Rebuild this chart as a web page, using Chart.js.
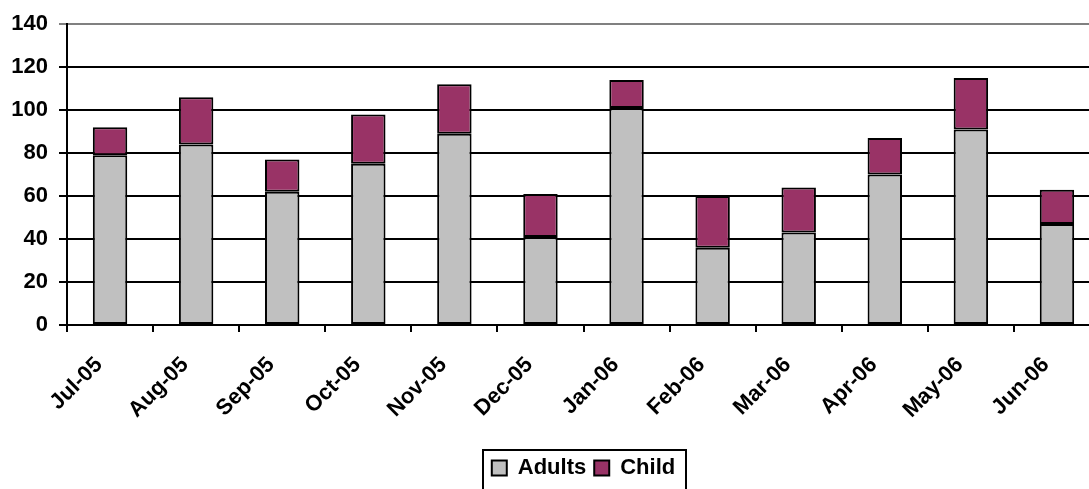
<!DOCTYPE html>
<html>
<head>
  <meta charset="UTF-8">
  <title>Adults / Child</title>
  <script src="https://cdn.jsdelivr.net/npm/chart.js"></script>
  <style>
    html, body { margin: 0; padding: 0; background: #fff; }
    #wrap { width: 1089px; height: 489px; overflow: hidden; }
    canvas { display: block; }
  </style>
</head>
<body>
  <div id="wrap"><canvas id="barChart" width="1100" height="489"></canvas></div>

  <script>
    const months = ['Jul-05', 'Aug-05', 'Sep-05', 'Oct-05', 'Nov-05', 'Dec-05',
                    'Jan-06', 'Feb-06', 'Mar-06', 'Apr-06', 'May-06', 'Jun-06'];
    const adults = [79, 84, 62, 75, 89, 41, 101, 36, 43, 70, 91, 47];
    const child = [13, 22, 15, 23, 23, 20, 13, 24, 21, 17, 24, 16];
    const yTicks = [0, 20, 40, 60, 80, 100, 120, 140];

    const font = { family: 'Liberation Sans, Arial, sans-serif', size: 22, weight: 'bold' };

    // Excel style border around the legend
    const legendBorder = {
      id: 'legendBorder',
      afterDraw(chart) {
        const lg = chart.legend;
        if (!lg || !lg.legendHitBoxes.length) return;
        const boxes = lg.legendHitBoxes;
        const left = Math.min(...boxes.map((b) => b.left)) - 9;
        const right = Math.max(...boxes.map((b) => b.left + b.width)) + 11;
        const ctx = chart.ctx;
        ctx.save();
        ctx.strokeStyle = '#000';
        ctx.lineWidth = 2;
        ctx.strokeRect(Math.round(left), Math.round(lg.top) + 1, Math.round(right - left), lg.height + 6);
        ctx.restore();
      }
    };

    const ctx = document.getElementById('barChart').getContext('2d');
    new Chart(ctx, {
      type: 'bar',
      data: {
        labels: months,
        datasets: [
          {
            label: 'Adults',
            data: adults,
            backgroundColor: '#C0C0C0',
            borderColor: '#000',
            borderWidth: 2,
            borderSkipped: false,
            inflateAmount: 0
          },
          {
            label: 'Child',
            data: child,
            backgroundColor: '#993366',
            borderColor: '#000',
            borderWidth: 2,
            borderSkipped: false,
            inflateAmount: 0
          }
        ]
      },
      options: {
        responsive: false,
        animation: false,
        layout: { padding: { top: 22, left: 0, right: 0, bottom: 0 } },
        datasets: { bar: { barPercentage: 0.4, categoryPercentage: 1 } },
        scales: {
          x: {
            stacked: true,
            afterFit: (scale) => { scale.height = 124; },
            grid: { drawOnChartArea: false, drawTicks: true, tickLength: 7, color: '#000', lineWidth: 2 },
            border: { color: '#000', width: 2 },
            ticks: {
              color: '#000',
              font: font,
              maxRotation: 45,
              minRotation: 45,
              padding: 20,
              labelOffset: -11,
              autoSkip: false
            }
          },
          y: {
            stacked: true,
            min: 0,
            max: 140,
            afterFit: (scale) => { scale.width = 67; },
            afterBuildTicks: (scale) => { scale.ticks = yTicks.map((v) => ({ value: v })); },
            grid: {
              color: (c) => (c.tick && c.tick.value === 140 ? '#808080' : '#000'),
              lineWidth: 2,
              tickLength: 8
            },
            border: { color: '#000', width: 2 },
            ticks: { color: '#000', font: font, padding: 11 }
          }
        },
        plugins: {
          legend: {
            position: 'bottom',
            fullSize: false,
            labels: {
              color: '#000',
              font: font,
              boxWidth: 15,
              boxHeight: 15,
              padding: 8
            }
          },
          tooltip: { enabled: false }
        }
      },
      plugins: [legendBorder]
    });
  </script>
</body>
</html>
